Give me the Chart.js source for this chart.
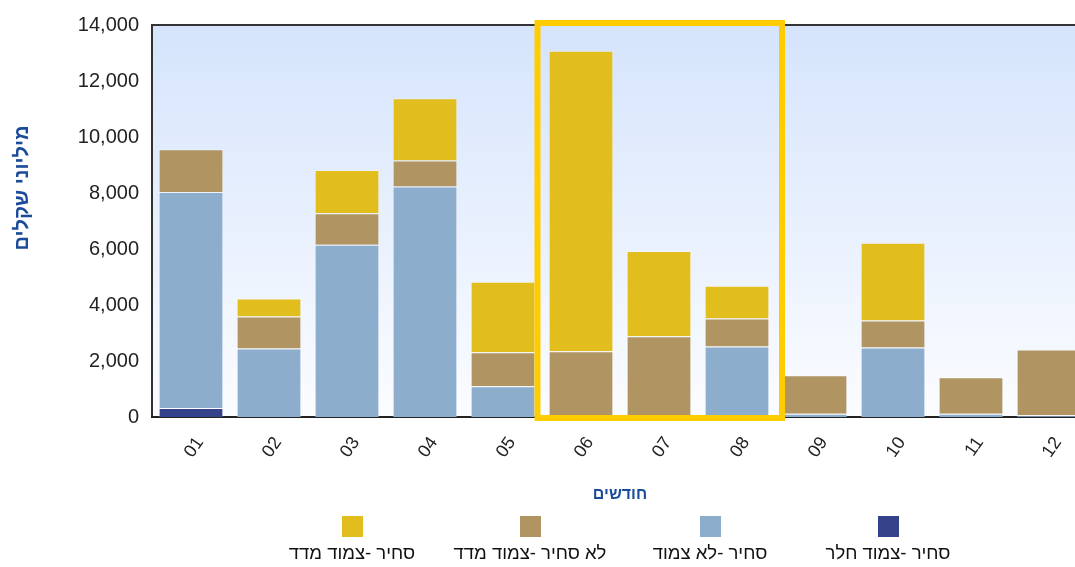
<!DOCTYPE html>
<html>
<head>
<meta charset="utf-8">
<script src="https://cdn.jsdelivr.net/npm/chart.js@4/dist/chart.umd.min.js"></script>
<style>
  html, body { margin: 0; padding: 0; background: #fff; overflow: hidden; }
  #wrap { position: relative; width: 1075px; height: 567px; overflow: hidden; }
  #chart { position: absolute; left: 0; top: 0; }
  .leg { position: absolute; top: 516px; width: 180px; text-align: center; }
  .leg .box { width: 21px; height: 21px; margin: 0 auto; }
  .leg .txt { margin-top: 5px; font: 18.5px "Liberation Sans", "DejaVu Sans", sans-serif; color: #111; white-space: nowrap; }
</style>
</head>
<body>
<div id="wrap">
  <canvas id="chart" width="1090" height="567"></canvas>
  <div id="legend"></div>
</div>
<script>
const months = ['01', '02', '03', '04', '05', '06', '07', '08', '09', '10', '11', '12']
const yTicks = [0, 2000, 4000, 6000, 8000, 10000, 12000, 14000]

// millions of shekels, bottom of the stack first
const tradableFx = [320, 0, 0, 0, 0, 0, 0, 0, 0, 0, 0, 0]
const tradableUnlinked = [7720, 2450, 6150, 8230, 1100, 0, 0, 2520, 120, 2480, 120, 60]
const nonTradableCpi = [1520, 1140, 1130, 930, 1210, 2350, 2880, 1000, 1370, 970, 1300, 2350]
const tradableCpi = [0, 640, 1540, 2220, 2520, 10730, 3050, 1170, 0, 2770, 0, 0]

const seriesNames = ['סחיר -צמוד חלר', 'סחיר -לא צמוד', 'לא סחיר -צמוד מדד', 'סחיר -צמוד מדד']
const seriesColors = ['#34428a', '#8dadcd', '#b09462', '#e1bd1e']
const highlightFrom = 5   // 06
const highlightTo = 7     // 08

const FONT = '"Liberation Sans", "DejaVu Sans", sans-serif'

const decor = {
  id: 'decor',
  beforeDraw(chart) {
    const { ctx, chartArea: a } = chart
    ctx.save()
    const g = ctx.createLinearGradient(0, a.top, 0, a.bottom)
    g.addColorStop(0, '#d5e4fc')
    g.addColorStop(1, '#fbfcff')
    ctx.fillStyle = g
    ctx.fillRect(a.left, a.top, a.right - a.left, a.bottom - a.top)
    ctx.strokeStyle = '#333'
    ctx.lineWidth = 2
    ctx.beginPath()
    ctx.moveTo(a.left, a.bottom)
    ctx.lineTo(a.left, a.top)
    ctx.lineTo(a.right, a.top)
    ctx.stroke()
    ctx.restore()
  },
  afterDraw(chart) {
    const { ctx, chartArea: a } = chart
    const x = chart.scales.x
    const y = chart.scales.y
    ctx.save()
    // highlight frame round 06-08
    const left = x.getPixelForValue(highlightFrom - 0.5) - 4.5
    const right = x.getPixelForValue(highlightTo + 0.5) + 6
    const top = y.getPixelForValue(14000) - 2
    const bottom = y.getPixelForValue(0) + 1
    ctx.strokeStyle = '#ffcc00'
    ctx.lineWidth = 6
    ctx.strokeRect(left, top, right - left, bottom - top)

    // axis titles
    ctx.fillStyle = '#1b4b9b'
    ctx.direction = 'rtl'
    ctx.textAlign = 'center'
    ctx.textBaseline = 'middle'
    ctx.font = 'bold 16px ' + FONT
    ctx.fillText('חודשים', (a.left + a.right) / 2, 495)
    ctx.translate(22, 188)
    ctx.rotate(-Math.PI / 2)
    ctx.font = 'bold 20px ' + FONT
    ctx.fillText('מיליוני שקלים', 0, 0)
    ctx.restore()
  }
}

const datasets = [tradableFx, tradableUnlinked, nonTradableCpi, tradableCpi].map((data, i) => ({
  label: seriesNames[i],
  data: data,
  backgroundColor: seriesColors[i],
  borderColor: 'rgba(255,255,255,0.35)',
  borderWidth: 1,
  borderSkipped: 'bottom',
  barPercentage: 0.83,
  categoryPercentage: 1
}))

new Chart(document.getElementById('chart'), {
  type: 'bar',
  data: { labels: months, datasets: datasets },
  options: {
    responsive: false,
    animation: false,
    devicePixelRatio: 1,
    layout: { padding: { top: 23, right: 2, left: 0, bottom: 0 } },
    plugins: {
      legend: { display: false },
      tooltip: { enabled: false }
    },
    scales: {
      x: {
        stacked: true,
        grid: { display: false, drawTicks: false },
        border: { display: true, color: '#222', width: 2 },
        ticks: {
          color: '#222',
          font: { family: FONT, size: 18 },
          minRotation: 55,
          maxRotation: 55,
          labelOffset: 9,
          padding: 16
        },
        afterFit(scale) { scale.height = 150 }
      },
      y: {
        stacked: true,
        min: 0,
        max: 14000,
        afterBuildTicks(scale) { scale.ticks = yTicks.map(v => ({ value: v })) },
        grid: { display: false, drawTicks: false },
        border: { display: false },
        ticks: {
          color: '#222',
          font: { family: FONT, size: 20 },
          padding: 13,
          callback: v => v.toLocaleString('en-US')
        },
        afterFit(scale) { scale.width = 152 }
      }
    }
  },
  plugins: [decor]
})

// legend: boxes above the names, first series on the right
const legendEl = document.getElementById('legend')
const legendCenters = [888, 710, 530, 352]
seriesNames.forEach((name, i) => {
  const item = document.createElement('div')
  item.className = 'leg'
  item.style.left = (legendCenters[i] - 90) + 'px'
  item.innerHTML = '<div class="box" style="background:' + seriesColors[i] + '"></div>' +
    '<div class="txt" dir="rtl">' + name + '</div>'
  legendEl.appendChild(item)
})
</script>
</body>
</html>
